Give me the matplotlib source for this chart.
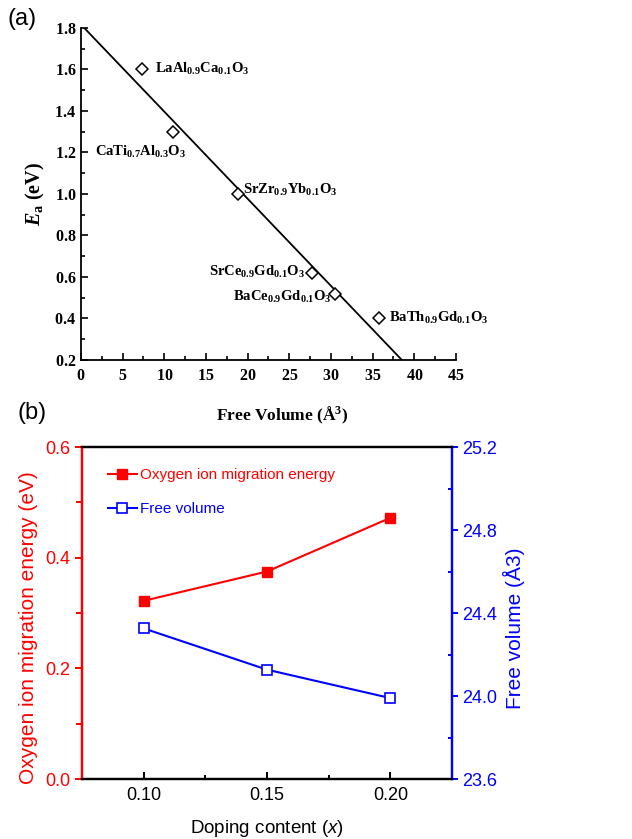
import matplotlib
matplotlib.use('Agg')
import matplotlib.pyplot as plt
from matplotlib.ticker import MultipleLocator, FormatStrFormatter, FuncFormatter

plt.rcParams['font.family'] = 'Liberation Sans'
plt.rcParams['mathtext.fontset'] = 'custom'
plt.rcParams['mathtext.rm'] = 'Liberation Serif:bold'
plt.rcParams['mathtext.it'] = 'Liberation Serif:bold:italic'
plt.rcParams['mathtext.bf'] = 'Liberation Serif:bold'
plt.rcParams['mathtext.sf'] = 'Liberation Sans:italic'

# (a) 자유부피 vs 활성화에너지
free_vol = [7.3, 11.0, 18.8, 27.7, 30.5, 35.8]
ea = [1.60, 1.30, 1.00, 0.62, 0.52, 0.40]
names = [r'LaAl$_{0.9}$Ca$_{0.1}$O$_3$', r'CaTi$_{0.7}$Al$_{0.3}$O$_3$',
         r'SrZr$_{0.9}$Yb$_{0.1}$O$_3$', r'SrCe$_{0.9}$Gd$_{0.1}$O$_3$',
         r'BaCe$_{0.9}$Gd$_{0.1}$O$_3$', r'BaTh$_{0.9}$Gd$_{0.1}$O$_3$']
fit_x = [0.4, 38.5]
fit_y = [1.80, 0.20]

# (b) 도핑량
doping = [0.10, 0.15, 0.20]
mig_energy = [0.322, 0.375, 0.472]
fv_b = [24.326, 24.127, 23.990]

# 라벨 위치
label_xy = [(8.9, 1.60), (1.7, 1.20), (19.4, 1.02), (26.9, 0.625), (30.1, 0.505), (37.0, 0.40)]
label_ha = ['left', 'left', 'left', 'right', 'right', 'left']

red = '#ff0000'
blue = '#0000ff'

fig = plt.figure(figsize=(6.32, 8.39), dpi=100)

# ---- (a) ----
ax1 = fig.add_axes([0.128, 0.571, 0.5935, 0.3957])
ax1.plot(fit_x, fit_y, color='black', lw=1.3)
ax1.plot(free_vol, ea, linestyle='none', marker='D', markersize=6.5,
         markerfacecolor='white', markeredgecolor='black', markeredgewidth=1.1)
for n, (tx, ty), ha in zip(names, label_xy, label_ha):
    ax1.text(tx, ty, n, ha=ha, va='center', fontsize=10.5,
             family='Liberation Serif', fontweight='bold')
ax1.set_xlim(0, 45)
ax1.set_ylim(0.2, 1.8)
ax1.xaxis.set_major_locator(MultipleLocator(5))
ax1.xaxis.set_minor_locator(MultipleLocator(2.5))
ax1.yaxis.set_major_locator(MultipleLocator(0.2))
ax1.yaxis.set_minor_locator(MultipleLocator(0.1))
ax1.xaxis.set_major_formatter(FuncFormatter(lambda v, p: r'$\mathbf{%d}$' % round(v)))
ax1.yaxis.set_major_formatter(FuncFormatter(lambda v, p: r'$\mathbf{%.1f}$' % v))
ax1.spines['top'].set_visible(False)
ax1.spines['right'].set_visible(False)
for s in ['left', 'bottom']:
    ax1.spines[s].set_linewidth(1.3)
ax1.tick_params(which='both', direction='in', width=1.2, top=False, right=False,
                labelsize=11.5)
ax1.tick_params(which='major', length=5)
ax1.tick_params(which='minor', length=3)
ax1.tick_params(axis='x', pad=6)
ax1.set_xlabel(r'Free Volume (Å$^3$)', family='Liberation Serif', fontweight='bold',
               fontsize=12.5, labelpad=14)
ax1.xaxis.set_label_coords(0.536, -0.135)
ax1.set_ylabel(r'$E_\mathrm{a}$ (eV)', family='Liberation Serif', fontweight='bold',
               fontsize=14.5, labelpad=5)
fig.text(0.012, 0.991, '(a)', fontsize=17, va='top')

# ---- (b) ----
ax2 = fig.add_axes([0.1297, 0.0715, 0.5855, 0.3957])
ax3 = ax2.twinx()
l1, = ax2.plot(doping, mig_energy, color=red, lw=1.5, marker='s', markersize=7,
               markerfacecolor=red, markeredgecolor=red)
l2, = ax3.plot(doping, fv_b, color=blue, lw=1.5, marker='s', markersize=6.5,
               markerfacecolor='white', markeredgecolor=blue, markeredgewidth=1.2)
ax2.set_xlim(0.075, 0.225)
ax2.set_ylim(0.0, 0.6)
ax3.set_ylim(23.6, 25.2)
ax2.xaxis.set_major_locator(MultipleLocator(0.05))
ax2.xaxis.set_minor_locator(MultipleLocator(0.025))
ax2.xaxis.set_major_formatter(FormatStrFormatter('%.2f'))
ax2.yaxis.set_major_locator(MultipleLocator(0.2))
ax2.yaxis.set_minor_locator(MultipleLocator(0.1))
ax2.yaxis.set_major_formatter(FormatStrFormatter('%.1f'))
ax3.yaxis.set_major_locator(MultipleLocator(0.4))
ax3.yaxis.set_minor_locator(MultipleLocator(0.2))
ax3.yaxis.set_major_formatter(FormatStrFormatter('%.1f'))

for a in (ax2, ax3):
    for s in a.spines.values():
        s.set_linewidth(1.6)
        s.set_color('black')
    a.spines['left'].set_color(red)
    a.spines['right'].set_color(blue)

ax2.tick_params(axis='x', which='both', direction='in', top=False, width=1.4,
                labelsize=13, colors='black', pad=6)
ax2.tick_params(axis='x', which='major', length=5)
ax2.tick_params(axis='x', which='minor', length=3)
ax2.tick_params(axis='y', which='both', direction='out', width=1.4, color=red,
                labelcolor=red, labelsize=13)
ax2.tick_params(axis='y', which='major', length=5)
ax2.tick_params(axis='y', which='minor', length=4)
ax3.tick_params(axis='y', which='major', direction='out', length=4, width=1.4,
                color=blue, labelcolor=blue, labelsize=13)
ax3.tick_params(axis='y', which='minor', direction='in', length=3, width=1.4, color=blue)

ax2.set_xlabel(r'Doping content ($\mathsf{x}$)', fontsize=13.5, labelpad=10)
ax2.set_ylabel('Oxygen ion migration energy (eV)', fontsize=15, color=red, labelpad=4)
ax3.set_ylabel('Free volume (Å3)', fontsize=15, color=blue, labelpad=2)
ax2.yaxis.set_label_coords(-0.119, 0.455)
ax3.yaxis.set_label_coords(1.138, 0.455)

leg = ax2.legend([l1, l2], ['Oxygen ion migration energy', 'Free volume'],
                 loc='upper left', bbox_to_anchor=(0.032, 0.977), frameon=False,
                 prop={'size': 11}, handlelength=1.9,
                 handletextpad=0.2, labelspacing=1.3)
for t, c in zip(leg.get_texts(), [red, blue]):
    t.set_color(c)

fig.text(0.028, 0.521, '(b)', fontsize=17, va='top')

fig.savefig('out.png', dpi=100)
